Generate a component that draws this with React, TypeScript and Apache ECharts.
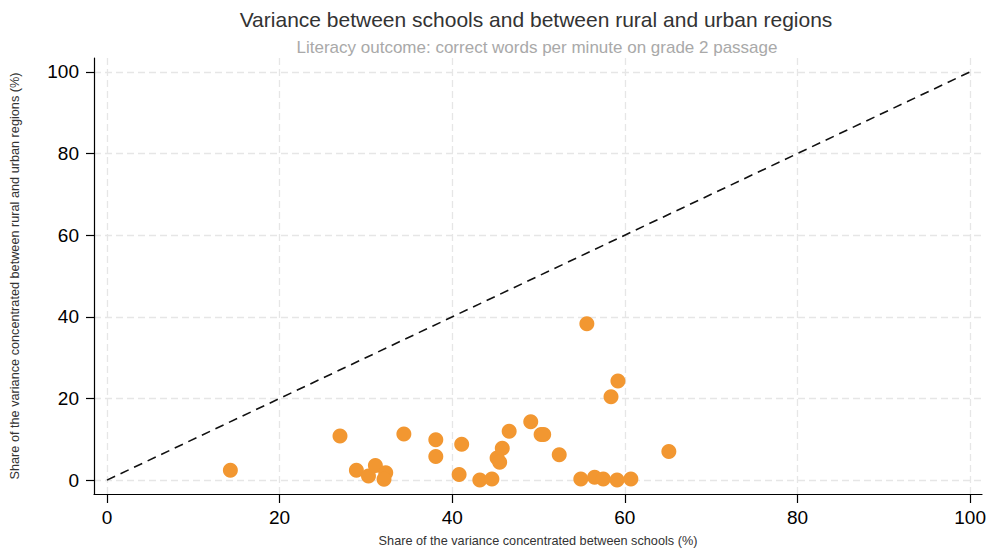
import React, { useEffect, useRef } from "react";
import * as echarts from "echarts";

const titleText = "Variance between schools and between rural and urban regions";
const subtitleText = "Literacy outcome: correct words per minute on grade 2 passage";
const xAxisName = "Share of the variance concentrated between schools (%)";
const yAxisName = "Share of the variance concentrated between rural and urban regions (%)";

const tickValues = [0, 20, 40, 60, 80, 100];

// Share between schools (%)
const betweenSchools = [
  14.3, 27.0, 28.9, 30.3, 31.1, 32.3, 32.1, 34.4, 38.1, 38.1,
  41.1, 40.8, 43.2, 44.6, 45.2, 45.8, 45.5, 46.6, 49.1, 50.3,
  50.6, 52.4, 55.6, 54.9, 56.5, 57.5, 59.2, 58.4, 59.1, 60.7, 65.1,
];
// Share between rural and urban regions (%)
const betweenRegions = [
  2.4, 10.8, 2.4, 1.0, 3.6, 1.8, 0.2, 11.3, 9.9, 5.8,
  8.8, 1.4, 0.0, 0.3, 5.4, 7.8, 4.4, 12.0, 14.3, 11.2,
  11.2, 6.2, 38.3, 0.3, 0.7, 0.3, 24.3, 20.4, 0.0, 0.3, 7.0,
];

const diagonalX = [0, 100];
const diagonalY = [0, 100];

const FONT = "'Liberation Sans', Arial, Helvetica, sans-serif";

export default function App() {
  const ref = useRef<HTMLDivElement>(null);

  useEffect(() => {
    if (!ref.current) return;
    const chart = echarts.init(ref.current, undefined, { renderer: "svg" });

    const points = betweenSchools.map((x, i) => [x, betweenRegions[i]]);
    const diag = diagonalX.map((x, i) => [x, diagonalY[i]]);

    const gridLine = {
      show: true,
      lineStyle: { color: "#e6e6e6", width: 1.3, type: [7, 4] as any },
    };

    chart.setOption({
      animation: false,
      backgroundColor: "#ffffff",
      textStyle: { fontFamily: FONT },
      graphic: [
        {
          type: "text",
          x: 536,
          y: 19,
          style: {
            text: titleText,
            fill: "#333333",
            font: `21px ${FONT}`,
            align: "center",
            verticalAlign: "middle",
          },
        },
        {
          type: "text",
          x: 537,
          y: 47,
          style: {
            text: subtitleText,
            fill: "#a9a9a9",
            font: `17px ${FONT}`,
            align: "center",
            verticalAlign: "middle",
          },
        },
      ],
      grid: { left: 90, right: 7, top: 58, bottom: 54, containLabel: false },
      xAxis: {
        type: "value",
        min: -1.5,
        max: 101.38,
        name: xAxisName,
        nameLocation: "middle",
        nameGap: 40,
        nameTextStyle: { fontSize: 12.7, color: "#333", fontFamily: FONT },
        axisLine: { show: true, onZero: false, lineStyle: { color: "#000", width: 1.2 } },
        axisTick: {
          show: true,
          length: 9,
          customValues: tickValues,
          lineStyle: { color: "#000", width: 1.2 },
        },
        axisLabel: {
          customValues: tickValues,
          fontSize: 19,
          color: "#000",
          margin: 14,
          fontFamily: FONT,
        },
        splitLine: gridLine,
      },
      yAxis: {
        type: "value",
        min: -3.4,
        max: 103.4,
        name: yAxisName,
        nameLocation: "middle",
        nameGap: 73,
        nameRotate: 90,
        nameTextStyle: { fontSize: 12.7, color: "#333", fontFamily: FONT },
        axisLine: { show: true, onZero: false, lineStyle: { color: "#000", width: 1.2 } },
        axisTick: {
          show: true,
          length: 8,
          customValues: tickValues,
          lineStyle: { color: "#000", width: 1.2 },
        },
        axisLabel: {
          customValues: tickValues,
          fontSize: 19,
          color: "#000",
          margin: 15,
          fontFamily: FONT,
        },
        splitLine: gridLine,
      },
      series: [
        {
          type: "line",
          data: diag,
          symbol: "none",
          lineStyle: { color: "#111", width: 1.6, type: [9, 6] as any },
          silent: true,
          z: 2,
        },
        {
          type: "scatter",
          data: points,
          symbol: "circle",
          symbolSize: 15,
          itemStyle: { color: "#F29731", opacity: 1 },
          z: 3,
        },
      ],
    });

    return () => chart.dispose();
  }, []);

  return <div ref={ref} style={{ width: 989, height: 552, position: "absolute", left: 0, top: 0 }} />;
}
